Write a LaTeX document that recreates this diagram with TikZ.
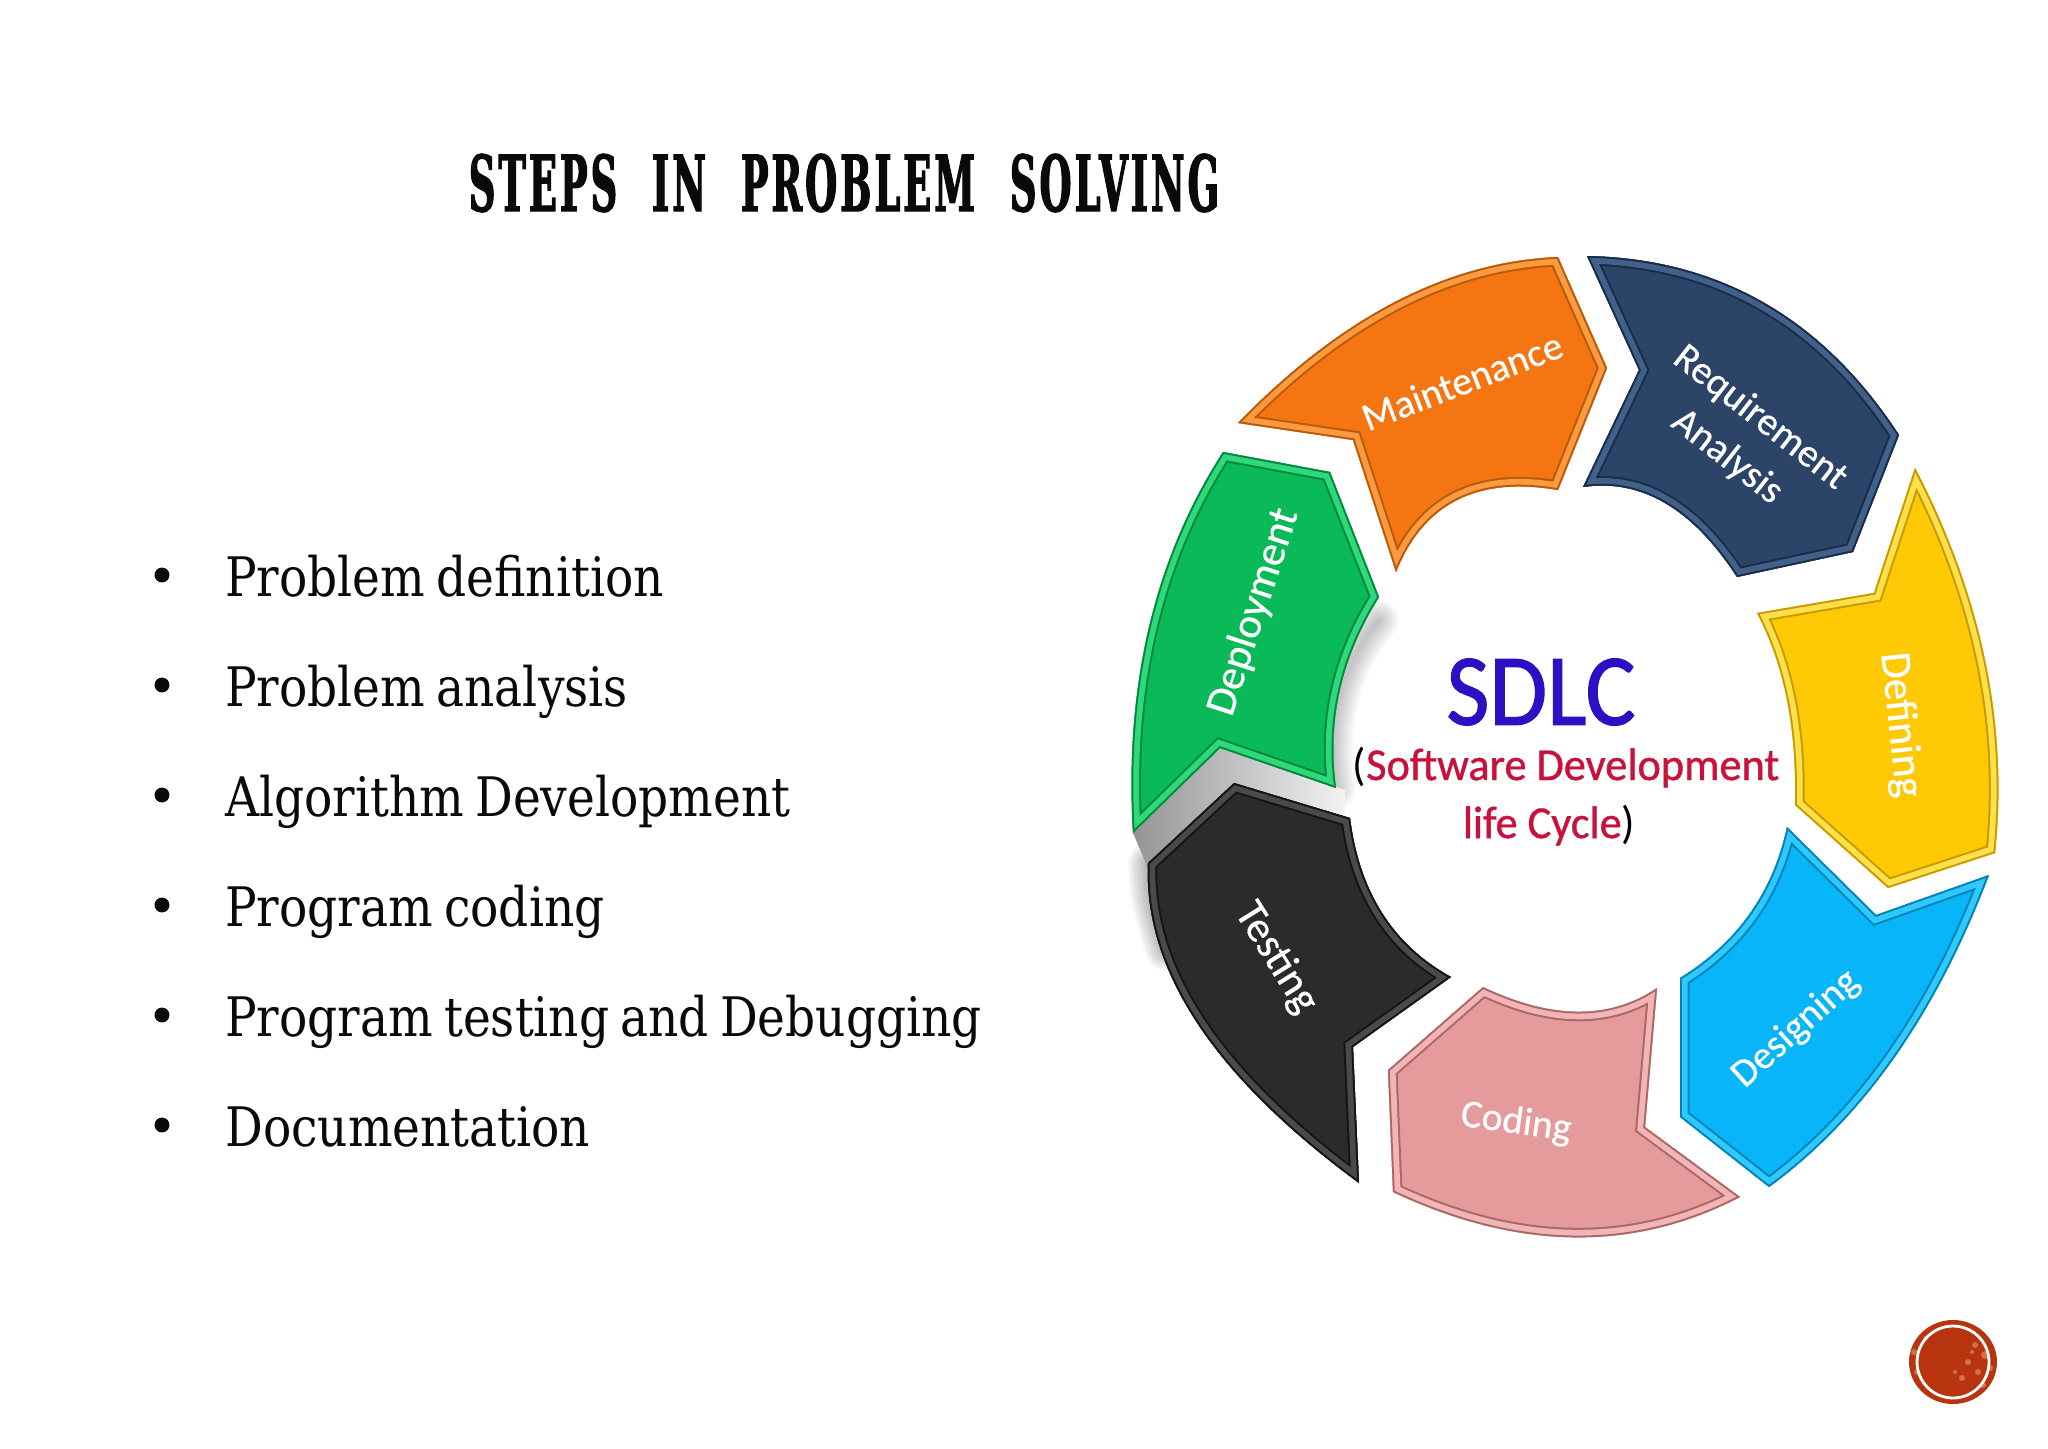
\documentclass[tikz,border=0pt]{standalone}
\usepackage{fontspec}
\usetikzlibrary{calc}
\setmainfont{DejaVu Serif}
\newfontfamily\lblfont{Carlito}[FakeBold=0.5]
\newfontfamily\sdlcfont{Carlito}[FakeBold=1.2,FakeStretch=0.92]
\newfontfamily\redfont{Carlito}[FakeBold=0.9,FakeStretch=0.97]
\newfontfamily\blackparen{Carlito}[FakeStretch=0.97]
\newfontfamily\bodyfont{DejaVu Serif Condensed}[FakeStretch=0.96,WordSpace=0.75]
\newfontfamily\titlefont{DejaVu Serif}[FakeStretch=0.475,FakeBold=1.5,LetterSpace=4,WordSpace=2.2]
\definecolor{inktext}{HTML}{0A0A0A}
\definecolor{orgbase}{HTML}{F47511}\definecolor{orgdark}{HTML}{B85A0A}\definecolor{orglite}{HTML}{FB9A3E}
\definecolor{navbase}{HTML}{2B4468}\definecolor{navdark}{HTML}{1A2C48}\definecolor{navlite}{HTML}{42618A}
\definecolor{yelbase}{HTML}{FFC906}\definecolor{yeldark}{HTML}{C79A00}\definecolor{yellite}{HTML}{FFE04A}
\definecolor{blubase}{HTML}{08B5F8}\definecolor{bludark}{HTML}{0583B8}\definecolor{blulite}{HTML}{2FC8FF}
\definecolor{pnkbase}{HTML}{E59B9B}\definecolor{pnkdark}{HTML}{A86868}\definecolor{pnklite}{HTML}{F2B4B4}
\definecolor{blkbase}{HTML}{2B2B2B}\definecolor{blkdark}{HTML}{141414}\definecolor{blklite}{HTML}{4A4A4A}
\definecolor{grnbase}{HTML}{0ABA58}\definecolor{grndark}{HTML}{06873F}\definecolor{grnlite}{HTML}{2FD97B}
\definecolor{btnbase}{HTML}{B8340F}\definecolor{btnspeck}{HTML}{DE8A66}
\definecolor{sdlcblue}{HTML}{2A12C4}\definecolor{sdlcred}{HTML}{C8123C}
% quadratic curve from #1 with control #2 to #3
\newcommand{\qd}[3]{#1 .. controls ($#1!0.667!#2$) and ($#3!0.667!#2$) .. #3}
\newcommand{\segment}[2]{%
  \fill[#1base] #2;
  \begin{scope}
    \clip #2;
    \draw[#1dark,line width=19*0.569pt,line join=miter] #2;
    \draw[#1lite,line width=15*0.569pt,line join=miter] #2;
    \draw[#1dark,line width=3.5*0.569pt,line join=miter] #2;
  \end{scope}}
\tikzset{
  seglabel/.style={font=\lblfont\fontsize{22.5pt}{24pt}\selectfont,text=white,inner sep=0pt,align=center},
  biglabel/.style={font=\lblfont\fontsize{24.5pt}{26pt}\selectfont,text=white,inner sep=0pt,align=center},
  bulletitem/.style={font=\bodyfont\fontsize{31pt}{34pt}\selectfont,text=inktext,anchor=base west,inner sep=0pt},
  bulletdot/.style={circle,fill=inktext,minimum size=8.5pt,inner sep=0pt},
  softshadow/.style={draw=black,line cap=round,line join=round}
}
\begin{document}
\begin{tikzpicture}[x=0.02cm,y=-0.02cm]
\useasboundingbox (0,0) rectangle (2048,1448);
\fill[white] (0,0) rectangle (2048,1448);
% soft shadow
\foreach \w in {4,8,...,40}{
  \draw[softshadow,line width=\w*0.569pt,opacity=0.025] \qd{(1379,620)}{(1322,688)}{(1336,788)};
  \draw[softshadow,line width=\w*0.569pt,opacity=0.03] (1148,863) .. controls (1150,900) .. (1165,950);
}
\path[left color=black!42,right color=black!5] (1133,833) -- (1220,748) -- (1345,790) -- (1345,825) -- (1234,790) -- (1148,868) -- cycle;
% ring
\segment{org}{\qd{(1238,423)}{(1392,264)}{(1558,257)} -- (1607,368) -- \qd{(1558,490)}{(1437,469)}{(1396,572)} -- (1353,440) -- cycle}
\segment{nav}{\qd{(1587,256)}{(1785,260)}{(1899,435)} -- (1853,552) -- \qd{(1737,577)}{(1670,474)}{(1583,487)} -- (1639,370) -- cycle}
\segment{yel}{\qd{(1915,468)}{(2015,660)}{(1995,853)} -- (1888,888) -- \qd{(1795,805)}{(1798,691)}{(1757,613)} -- (1874,593) -- cycle}
\segment{blu}{(1787,827) -- (1876,915) -- \qd{(1989,875)}{(1909,1085)}{(1769,1187)} -- (1680,1117) -- \qd{(1680,978)}{(1766,925)}{(1787,827)} -- cycle}
\segment{pnk}{\qd{(1483,987)}{(1586,1036)}{(1657,988)} -- (1645,1127) -- \qd{(1740,1197)}{(1580,1280)}{(1393,1192)} -- (1388,1070) -- cycle}
\segment{blk}{(1234,783) -- \qd{(1350,818)}{(1364,929)}{(1451,977)} -- (1353,1047) -- \qd{(1359,1183)}{(1141,1023)}{(1148,863)} -- cycle}
\segment{grn}{(1223,452) -- (1330,472) -- \qd{(1379,597)}{(1322,688)}{(1336,788)} -- (1220,748) -- \qd{(1133,833)}{(1120,612)}{(1223,452)} -- cycle}
% ring labels
\node[seglabel,rotate=21] (lmaint) at (1462,381) {Maintenance};
\node[seglabel,rotate=-38] (lreq) at (1760,418) {Requirement};
\node[seglabel,rotate=-38] (lana) at (1727,457) {Analysis};
\node[biglabel,rotate=-84] (ldef) at (1900,725) {Defining};
\node[seglabel,rotate=42] (ldes) at (1796,1029) {Designing};
\node[seglabel,rotate=-8] (lcod) at (1516,1123) {Coding};
\node[biglabel,rotate=-58] (ltes) at (1276,958) {Testing};
\node[biglabel,rotate=72] (ldep) at (1254,612) {Deployment};
% centre
\node[font=\sdlcfont\fontsize{58pt}{60pt}\selectfont,text=sdlcblue,inner sep=0pt] (sdlc) at (1541,692) {SDLC};
\node[font=\redfont\fontsize{26pt}{28pt}\selectfont,inner sep=0pt] (sdlcone) at (1566,767) {\textcolor{black}{\blackparen(}\textcolor{sdlcred}{Software Development}};
\node[font=\redfont\fontsize{26pt}{28pt}\selectfont,inner sep=0pt] (sdlctwo) at (1549,825) {\textcolor{sdlcred}{life Cycle}\textcolor{black}{\blackparen)}};
% title
\node[font=\titlefont\bfseries\fontsize{44pt}{46pt}\selectfont,text=inktext,inner sep=0pt] (title) at (844,183) {STEPS IN PROBLEM SOLVING};
% bullets
\foreach \n/\y/\t in {a/596/Problem definition,b/706/Problem analysis,c/816/Algorithm Development,d/926/Program coding,e/1036/Program testing and Debugging,f/1146/Documentation}{
  \node[bulletitem] (item\n) at (225,\y) {\t};
  \node[bulletdot] (dot\n) at (162,\y-21) {};
}
% button
\fill[btnbase] (1953,1362) ellipse (44 and 42);
\foreach \sx/\sy/\sr in {1975/1345/3,1985/1355/4,1968/1362/3,1990/1368/3,1978/1372/3,1962/1378/3,1983/1385/3,1972/1352/2,1914/1352/3,1917/1372/3,1925/1338/2,1955/1372/2}{
  \fill[btnspeck,opacity=0.7] (\sx,\sy) circle (\sr);
}
\draw[white,line width=2.8*0.569pt] (1953,1362) circle (36);
\end{tikzpicture}
\end{document}
